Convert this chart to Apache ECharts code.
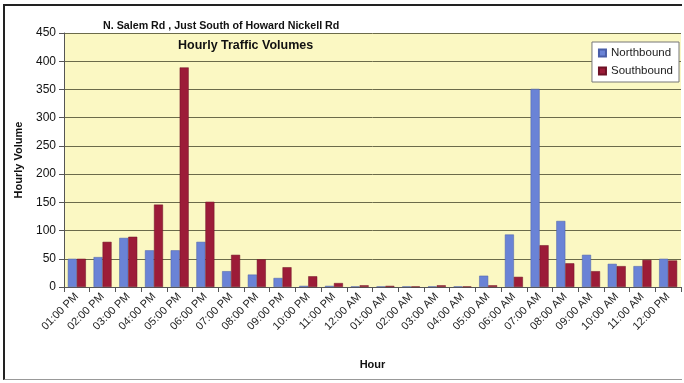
<!DOCTYPE html>
<html>
<head>
<meta charset="utf-8">
<script src="https://cdn.jsdelivr.net/npm/echarts@6/dist/echarts.min.js"></script>
<style>
html,body{margin:0;padding:0;background:#fff;}
#main{position:absolute;left:3px;top:4px;width:679px;height:376px;border-left:2px solid #222;border-top:2px solid #222;border-bottom:1px solid #999;box-sizing:border-box;}
</style>
</head>
<body>
<div id="main"></div>
<script>
// hours of the count, 1 pm through noon next day
var hours = ['01:00 PM','02:00 PM','03:00 PM','04:00 PM','05:00 PM','06:00 PM','07:00 PM','08:00 PM',
    '09:00 PM','10:00 PM','11:00 PM','12:00 AM','01:00 AM','02:00 AM','03:00 AM','04:00 AM',
    '05:00 AM','06:00 AM','07:00 AM','08:00 AM','09:00 AM','10:00 AM','11:00 AM','12:00 PM'];
var northbound = [50,53,87,65,65,80,28,22,16,2,2,1,1,1,1,1,20,93,351,117,57,41,37,50];
var southbound = [50,80,89,146,389,151,57,49,35,19,7,3,2,1,3,1,3,18,74,42,28,37,48,47];

var myChart = echarts.init(document.getElementById('main'));
var option = {
    animation:false,
    title:[{
        text:'N. Salem Rd , Just South of Howard Nickell Rd',
        left:93, top:10,
        textStyle:{fontSize:10.7,fontWeight:'bold',color:'#111',fontFamily:'Liberation Sans'}
    },{
        text:'Hourly Traffic Volumes',
        left:168, top:28,
        textStyle:{fontSize:12.5,fontWeight:'bold',color:'#111',fontFamily:'Liberation Sans'}
    }],
    legend:{
        orient:'vertical',
        right:3, top:36,
        backgroundColor:'#fff',
        borderColor:'#777',
        borderWidth:1,
        padding:[5,6],
        itemGap:6,
        itemWidth:7, itemHeight:7,
        icon:'rect',
        textStyle:{fontSize:11.5,color:'#222',fontFamily:'Liberation Sans'},
        data:['Northbound','Southbound']
    },
    grid:{left:56, right:1, top:27, bottom:92, backgroundColor:'#fbf8c3', show:true, borderWidth:0},
    xAxis:{
        type:'category',
        data:hours,
        name:'Hour',
        nameLocation:'middle',
        nameGap:72,
        nameTextStyle:{fontSize:11,fontWeight:'bold',color:'#111',fontFamily:'Liberation Sans'},
        axisLine:{lineStyle:{color:'#555'}},
        axisTick:{show:true,alignWithLabel:false,lineStyle:{color:'#555'}},
        axisLabel:{rotate:45,interval:0,fontSize:11,color:'#222',fontFamily:'Liberation Sans',margin:8}
    },
    yAxis:{
        type:'value',
        min:0, max:450, interval:50,
        name:'Hourly Volume',
        nameLocation:'middle',
        nameGap:40,
        nameTextStyle:{fontSize:11,fontWeight:'bold',color:'#111',fontFamily:'Liberation Sans'},
        axisLine:{show:true,lineStyle:{color:'#555'}},
        axisTick:{show:true,lineStyle:{color:'#555'}},
        axisLabel:{fontSize:12,color:'#111',fontFamily:'Liberation Sans'},
        splitLine:{lineStyle:{color:'#6b6b4a',width:1}}
    },
    series:[{
        name:'Northbound',
        type:'bar',
        data:northbound,
        barGap:'0%',
        barCategoryGap:'30%',
        itemStyle:{color:'#6a83d6',borderColor:'#4a5ea8',borderWidth:0.5}
    },{
        name:'Southbound',
        type:'bar',
        data:southbound,
        itemStyle:{color:'#9c1c38',borderColor:'#6e1226',borderWidth:0.5}
    }]
};
myChart.setOption(option);
</script>
</body>
</html>
